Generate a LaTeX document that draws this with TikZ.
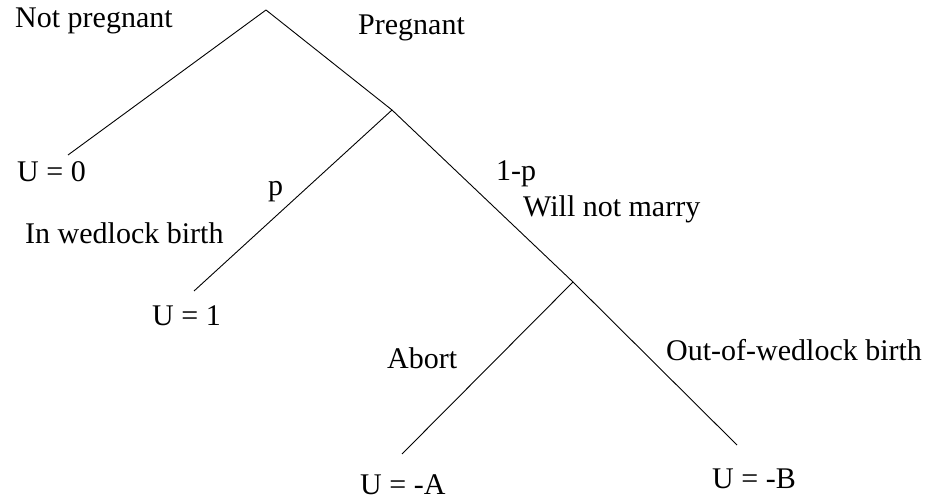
\documentclass[tikz,border=0pt]{standalone}
\usepackage{fontspec}
\setmainfont{Liberation Serif}
\begin{document}
\begin{tikzpicture}[x=1pt,y=-1pt,
  lbl/.style={anchor=base west,inner sep=0pt,font=\fontsize{30}{36}\selectfont},
  branch/.style={draw=black,line width=0.9pt}]
\useasboundingbox (0,0) rectangle (933,500);
% tree points
\coordinate (root) at (266,10);
\coordinate (np) at (68,155);
\coordinate (preg) at (392,110);
\coordinate (inw) at (194,291);
\coordinate (wnm) at (573,282);
\coordinate (ab) at (402,454);
\coordinate (oow) at (737,445);
% branches
\draw[branch] (root) -- (np);
\draw[branch] (root) -- (preg);
\draw[branch] (preg) -- (inw);
\draw[branch] (preg) -- (wnm);
\draw[branch] (wnm) -- (ab);
\draw[branch] (wnm) -- (oow);
% labels
\node[lbl] (tnp) at (15,28) {Not pregnant};
\node[lbl] (tpreg) at (358,35) {Pregnant};
\node[lbl] (tu0) at (17,181) {U = 0};
\node[lbl] (tp) at (268,195) {p};
\node[lbl] (t1p) at (496,180) {1-p};
\node[lbl] (twnm) at (523,216) {Will not marry};
\node[lbl] (tinw) at (25,243) {In wedlock birth};
\node[lbl] (tu1) at (152,325) {U = 1};
\node[lbl] (tab) at (387,368) {Abort};
\node[lbl] (toow) at (666,360) {Out-of-wedlock birth};
\node[lbl] (tua) at (360,494) {U = -A};
\node[lbl] (tub) at (712,488) {U = -B};
\end{tikzpicture}
\end{document}
